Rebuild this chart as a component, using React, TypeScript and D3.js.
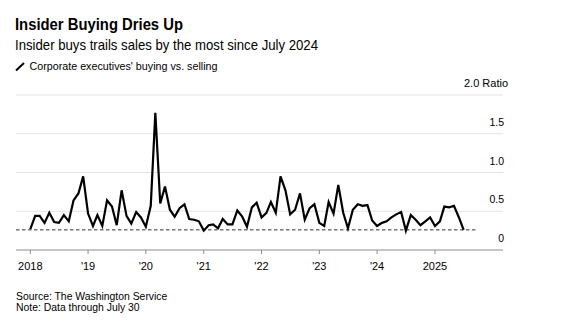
import React from "react";
import * as d3 from "d3";

const startYear = 2018;
const ratios: number[] = [
  // 2018
  0.27, 0.44, 0.44, 0.35, 0.48, 0.36, 0.35, 0.45, 0.37, 0.64, 0.73, 0.95,
  // 2019
  0.47, 0.31, 0.45, 0.31, 0.64, 0.56, 0.32, 0.77, 0.44, 0.34, 0.49, 0.42,
  // 2020
  0.30, 0.57, 1.77, 0.60, 0.82, 0.52, 0.43, 0.54, 0.59, 0.40, 0.39, 0.37,
  // 2021
  0.25, 0.32, 0.33, 0.28, 0.40, 0.33, 0.33, 0.51, 0.43, 0.30, 0.55, 0.61,
  // 2022
  0.42, 0.48, 0.62, 0.48, 0.95, 0.77, 0.46, 0.52, 0.73, 0.39, 0.54, 0.59,
  // 2023
  0.35, 0.31, 0.62, 0.47, 0.84, 0.48, 0.28, 0.52, 0.59, 0.57, 0.58, 0.38,
  // 2024
  0.31, 0.35, 0.37, 0.42, 0.46, 0.49, 0.25, 0.45, 0.39, 0.32, 0.37, 0.42,
  // 2025
  0.31, 0.37, 0.56, 0.55, 0.57, 0.42, 0.26,
];

const yTicks = [0, 0.5, 1.0, 1.5, 2.0];
const yTickLabels = ["0", "0.5", "1.0", "1.5", "2.0 Ratio"];
const xTickYears = [2018, 2019, 2020, 2021, 2022, 2023, 2024, 2025];
const xTickLabels = ["2018", "'19", "'20", "'21", "'22", "'23", "'24", "2025"];

const title = "Insider Buying Dries Up";
const subtitle = "Insider buys trails sales by the most since July 2024";
const legendLabel = "Corporate executives' buying vs. selling";
const source = "Source: The Washington Service";
const note = "Note: Data through July 30";

const W = 563;
const H = 326;
const FONT = "'Liberation Sans', Arial, Helvetica, sans-serif";

export default function App() {
  const data = ratios.map((v, i) => ({
    date: new Date(startYear, i, 1),
    v,
  }));
  const x = d3
    .scaleTime()
    .domain([new Date(2018, 0, 1), new Date(2025, 0, 1)])
    .range([30.3, 435]);
  const y = d3.scaleLinear().domain([0, 2]).range([250, 95]);
  const line = d3
    .line<{ date: Date; v: number }>()
    .x((d) => x(d.date))
    .y((d) => y(d.v))
    .curve(d3.curveLinear);
  const plotLeft = 16;
  const plotRight = 503;
  const last = ratios[ratios.length - 1];

  return (
    <svg
      width={W}
      height={H}
      style={{ position: "absolute", left: 0, top: 0, background: "#fff" }}
      fontFamily={FONT}
    >
      <text
        x={15}
        y={30}
        fontSize={16.5}
        fontWeight="bold"
        fill="#000"
        textLength={168}
        lengthAdjust="spacingAndGlyphs"
      >
        {title}
      </text>
      <text
        x={15}
        y={50}
        fontSize={14.5}
        fill="#000"
        textLength={303}
        lengthAdjust="spacingAndGlyphs"
      >
        {subtitle}
      </text>
      <line x1={16} y1={70.5} x2={24} y2={63} stroke="#000" strokeWidth={2} />
      <text
        x={29.5}
        y={69.5}
        fontSize={11.5}
        fill="#000"
        textLength={188}
        lengthAdjust="spacingAndGlyphs"
      >
        {legendLabel}
      </text>

      {yTicks.map((t, i) => (
        <g key={t}>
          {t !== 0 && (
            <line
              x1={plotLeft}
              x2={plotRight}
              y1={y(t)}
              y2={y(t)}
              stroke="#e3e3e3"
              strokeWidth={1}
            />
          )}
          <text
            x={t === 2 ? 508 : 504}
            y={y(t) - 8}
            fontSize={t === 2 ? 11 : 10.5}
            textAnchor="end"
            fill="#000"
          >
            {yTickLabels[i]}
          </text>
        </g>
      ))}

      <line
        x1={plotLeft}
        x2={plotRight}
        y1={y(0)}
        y2={y(0)}
        stroke="#8c8c8c"
        strokeWidth={1}
      />
      {xTickYears.map((yr, i) => {
        const px = x(new Date(yr, 0, 1));
        return (
          <g key={yr}>
            <line x1={px} x2={px} y1={y(0)} y2={y(0) + 4} stroke="#8c8c8c" />
            <text
              x={px}
              y={270}
              fontSize={11}
              textAnchor="middle"
              fill="#000"
            >
              {xTickLabels[i]}
            </text>
          </g>
        );
      })}

      <line
        x1={plotLeft}
        x2={477}
        y1={y(last)}
        y2={y(last)}
        stroke="#333"
        strokeWidth={1}
        strokeDasharray="3.5,2.5"
      />
      <path
        d={line(data) || ""}
        fill="none"
        stroke="#000"
        strokeWidth={2.2}
        strokeLinejoin="miter"
      />

      <text x={16} y={300} fontSize={10.4} fill="#000">
        {source}
      </text>
      <text x={16} y={311} fontSize={10.4} fill="#000">
        {note}
      </text>
    </svg>
  );
}
